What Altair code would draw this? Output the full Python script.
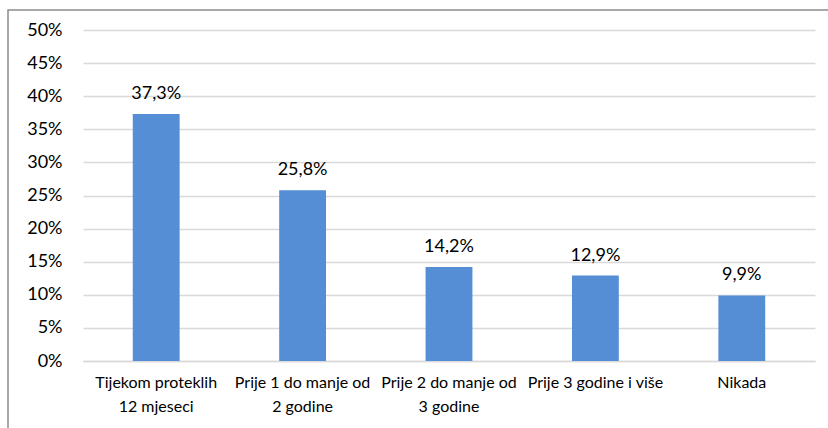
import altair as alt
import pandas as pd

# Survey categories (two-line axis labels split on "|") and their shares in percent
categories = [
    "Tijekom proteklih|12 mjeseci",
    "Prije 1 do manje od|2 godine",
    "Prije 2 do manje od|3 godine",
    "Prije 3 godine i više",
    "Nikada",
]
shares = [37.3, 25.8, 14.2, 12.9, 9.9]

df = pd.DataFrame({"kategorija": categories, "udio": shares})

W, H = 732, 331
FONT = "Lato"

x_enc = alt.X(
    "kategorija:N",
    sort=categories,
    title=None,
    scale=alt.Scale(paddingInner=0.68, paddingOuter=0.34),
    axis=alt.Axis(
        labelAngle=0,
        labelExpr="split(datum.label, '|')",
        labelFont=FONT,
        labelFontSize=16,
        labelColor="#000000",
        labelPadding=13,
        labelLineHeight=24,
        labelOverlap=False,
        labelLimit=300,
        ticks=False,
        domainColor="#d9d9d9",
        domainWidth=1.5,
        grid=False,
    ),
)

y_enc = alt.Y(
    "udio:Q",
    title=None,
    scale=alt.Scale(domain=[0, 50], nice=False),
    axis=alt.Axis(
        values=list(range(0, 55, 5)),
        labelExpr="datum.value + '%'",
        labelFont=FONT,
        labelFontSize=18,
        labelColor="#000000",
        labelPadding=21,
        labelOverlap=False,
        ticks=False,
        domain=False,
        gridColor="#d9d9d9",
        gridWidth=1.5,
    ),
)

base = alt.Chart(df).encode(x=x_enc, y=y_enc)

bars = base.mark_bar(color="#558ED5")

labels = base.mark_text(
    dy=-20, font=FONT, fontSize=18, color="#000000", baseline="middle"
).transform_calculate(
    oznaka="replace(format(datum.udio, '.1f'), '.', ',') + '%'"
).encode(text="oznaka:N")

# outer frame around the whole chart
frame = alt.Chart(df).mark_rect(
    fill=None, stroke="#8c8c8c", strokeWidth=1.5
).encode(
    x=alt.value(-75), x2=alt.value(W + 60), y=alt.value(-20), y2=alt.value(H + 80)
).transform_filter("datum.kategorija == 'Nikada'")

chart = (
    alt.layer(bars, labels, frame)
    .properties(
        width=W,
        height=H,
        padding={"left": 83, "top": 30, "right": 13, "bottom": 67},
        autosize=alt.AutoSizeParams(type="none"),
        background="#ffffff",
    )
    .configure_view(stroke=None)
)

chart.save("out.html", embed_options={"renderer": "svg", "actions": False})
